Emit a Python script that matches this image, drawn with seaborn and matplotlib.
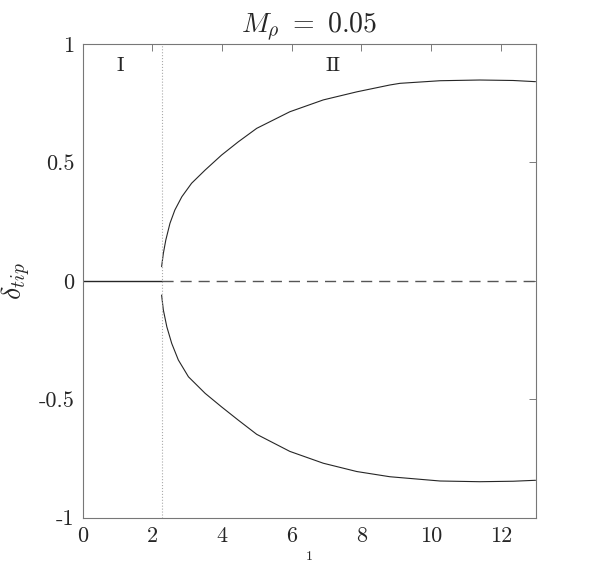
import matplotlib
matplotlib.use('Agg')
import matplotlib.pyplot as plt
import seaborn as sns
import numpy as np
import pandas as pd

# values
x_bif = 2.27
upper_x = [2.27, 2.32, 2.39, 2.51, 2.65, 2.85, 3.13, 3.52, 3.99, 4.47, 5.0, 5.95, 6.91,
           7.87, 8.82, 9.11, 10.26, 11.4, 12.36, 13.0]
upper_y = [0.06, 0.116, 0.172, 0.243, 0.299, 0.355, 0.412, 0.468, 0.531, 0.587, 0.644, 0.714, 0.764,
           0.798, 0.827, 0.834, 0.845, 0.848, 0.846, 0.841]
lower_x = [2.27, 2.32, 2.42, 2.56, 2.75, 3.04, 3.52, 3.99, 4.47, 5.0, 5.95, 6.91,
           7.87, 8.82, 10.26, 11.4, 12.36, 13.0]
lower_y = [-0.06, -0.123, -0.194, -0.264, -0.334, -0.405, -0.475, -0.532, -0.588, -0.648, -0.72, -0.77,
           -0.805, -0.827, -0.845, -0.848, -0.846, -0.842]
stable_x = [0.0, x_bif]
unstable_x = [x_bif, 13.0]
xticks = [0, 2, 4, 6, 8, 10, 12]
yticks = [-1, -0.5, 0, 0.5, 1]
yticklabels = ['-1', '-0.5', '0', '0.5', '1']
regions = ['I', 'II']
region_x = [1.08, 7.19]

sns.set_style('white')
plt.rcParams['font.family'] = 'serif'
plt.rcParams['font.serif'] = ['cmr10']
plt.rcParams['mathtext.fontset'] = 'cm'
plt.rcParams['axes.unicode_minus'] = False
plt.rcParams['axes.formatter.use_mathtext'] = True

fig = plt.figure(figsize=(5.91, 5.65), dpi=100)
ax = fig.add_axes([0.1396, 0.0837, 0.7665, 0.8384])

line_col = '#262626'
sns.lineplot(x=upper_x, y=upper_y, ax=ax, color=line_col, lw=0.8, estimator=None, sort=False)
sns.lineplot(x=lower_x, y=lower_y, ax=ax, color=line_col, lw=0.8, estimator=None, sort=False)
sns.lineplot(x=stable_x, y=[0, 0], ax=ax, color=line_col, lw=1.0, estimator=None)
sns.lineplot(x=unstable_x, y=[0, 0], ax=ax, color='#555555', lw=1.0, estimator=None,
             linestyle=(0, (8, 5)))
ax.axvline(x_bif, color='#aaaaaa', lw=0.8, linestyle=':')

for lab, xx in zip(regions, region_x):
    ax.text(xx, 0.907, lab, ha='center', va='center', fontsize=15)

ax.set_xlim(0, 13)
ax.set_ylim(-1, 1)
ax.set_xticks(xticks)
ax.set_xticklabels([str(t) for t in xticks])
ax.set_yticks(yticks)
ax.set_yticklabels(yticklabels)
ax.tick_params(direction='in', top=True, right=True, length=5, width=0.6,
               color='#666666', labelsize=16, pad=6)
for s in ax.spines.values():
    s.set_color('#777777')
    s.set_linewidth(0.8)

ax.set_title(r'$M_\rho\ =\ 0.05$', fontsize=20, pad=8)
ax.set_ylabel(r'$\delta_{tip}$', fontsize=20, labelpad=4)
ax.set_xlabel('1', fontsize=10, labelpad=4)

fig.savefig('out.png', dpi=100)
